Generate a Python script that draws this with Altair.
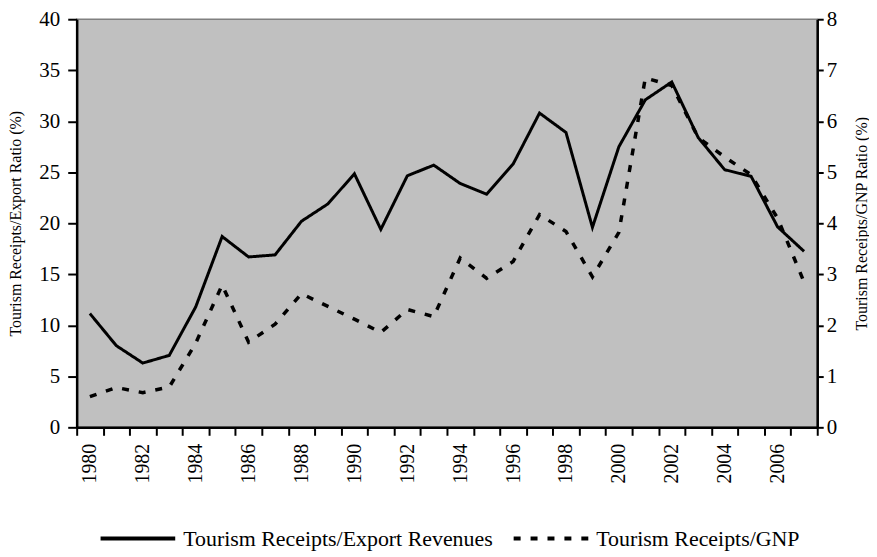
import altair as alt
import pandas as pd

years = list(range(1980, 2008))
export_ratio = [11.15, 8.0, 6.3, 7.05, 11.8, 18.7, 16.7, 16.9, 20.2, 21.9,
                24.85, 19.4, 24.65, 25.7, 23.9, 22.85, 25.8, 30.8, 28.9, 19.6,
                27.5, 32.1, 33.85, 28.4, 25.25, 24.6, 19.65, 17.25]
gnp_ratio = [0.60, 0.78, 0.68, 0.79, 1.65, 2.79, 1.67, 2.02, 2.62, 2.37,
             2.12, 1.86, 2.31, 2.17, 3.32, 2.92, 3.25, 4.17, 3.84, 2.95,
             3.82, 6.85, 6.7, 5.68, 5.3, 4.95, 4.1, 2.85]
series_names = ["Tourism Receipts/Export Revenues", "Tourism Receipts/GNP"]
left_ticks = [0, 5, 10, 15, 20, 25, 30, 35, 40]
right_ticks = [0, 1, 2, 3, 4, 5, 6, 7, 8]

df_exp = pd.DataFrame({"year": years, "value": export_ratio, "series": series_names[0]})
df_gnp = pd.DataFrame({"year": years, "value": gnp_ratio, "series": series_names[1]})

FONT = "'Liberation Serif', 'Times New Roman', Times, serif"

x_axis = alt.Axis(
    values=[1979.5 + i for i in range(29)],
    labelExpr="datum.value < 2007 && (datum.value + 0.5) % 2 == 0 ? format(datum.value + 0.5, 'd') : ''",
    labelOffset=13.3,
    labelAngle=270,
    labelOverlap=False,
    labelFlush=False,
    labelBound=False,
    labelFont=FONT,
    labelFontSize=20,
    labelColor="black",
    labelPadding=8,
    tickSize=8,
    tickWidth=2,
    tickColor="black",
    domainColor="black",
    domainWidth=2.5,
    grid=False,
    title=None,
)
x_enc = alt.X("year:Q", scale=alt.Scale(domain=[1979.5, 2007.5], nice=False, zero=False), axis=x_axis)

dash = alt.StrokeDash(
    "series:N",
    scale=alt.Scale(domain=series_names, range=[[1, 0], [7, 10]]),
    legend=alt.Legend(
        title=None,
        orient="bottom",
        offset=-6,
        padding=22,
        direction="horizontal",
        symbolType="stroke",
        symbolSize=5625,
        symbolStrokeWidth=4,
        symbolStrokeColor="black",
        labelFont=FONT,
        labelFontSize=22,
        labelColor="black",
        labelOffset=6,
        columnPadding=12,
        labelLimit=600,
    ),
)

left = alt.Chart(df_exp).mark_line(color="black", strokeWidth=3).encode(
    x=x_enc,
    y=alt.Y("value:Q", scale=alt.Scale(domain=[0, 40], nice=False),
            axis=alt.Axis(orient="left", values=left_ticks, grid=False,
                          title="Tourism Receipts/Export Ratio (%)",
                          titleFont=FONT, titleFontSize=16, titleFontWeight="normal",
                          titleColor="black", titleX=-61, titleY=205,
                          titleAngle=270, titleAlign="center", titleBaseline="middle",
                          labelFont=FONT, labelFontSize=21, labelColor="black",
                          labelPadding=8, tickSize=9, tickWidth=2, tickColor="black",
                          domainColor="black", domainWidth=2.5)),
    strokeDash=dash,
)

right = alt.Chart(df_gnp).mark_line(color="black", strokeWidth=3.5).encode(
    x=x_enc,
    y=alt.Y("value:Q", scale=alt.Scale(domain=[0, 8], nice=False),
            axis=alt.Axis(orient="right", values=right_ticks, grid=False,
                          title="Tourism Receipts/GNP Ratio (%)",
                          titleFont=FONT, titleFontSize=16, titleFontWeight="normal",
                          titleColor="black", titleX=44, titleY=205,
                          titleAngle=270, titleAlign="center", titleBaseline="middle",
                          labelFont=FONT, labelFontSize=21, labelColor="black",
                          labelPadding=3, tickSize=6, tickWidth=2, tickColor="black",
                          domainColor="black", domainWidth=2.5)),
    strokeDash=dash,
)

chart = alt.layer(left, right).resolve_scale(y="independent").properties(
    width=744,
    height=410,
    autosize=alt.AutoSizeParams(type="none"),
    padding={"left": 69, "top": 10, "right": 52, "bottom": 127},
    background="white",
).configure_view(fill="#c0c0c0", stroke="#808080", strokeWidth=1.5)

chart.save("out.html", embed_options={"renderer": "svg", "actions": False})
